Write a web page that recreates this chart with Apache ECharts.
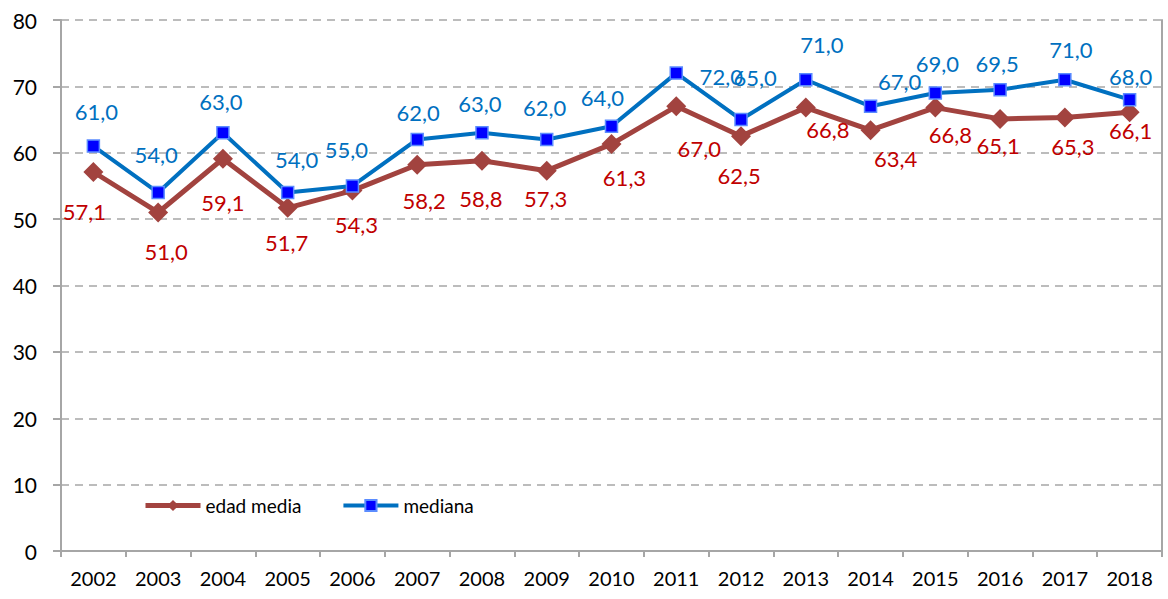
<!DOCTYPE html>
<html>
<head>
<meta charset="utf-8">
<script src="https://cdn.jsdelivr.net/npm/echarts@6/dist/echarts.min.js"></script>
<style>
  html, body { margin: 0; padding: 0; background: #fff; }
  #chart { width: 1168px; height: 599px; }
</style>
</head>
<body>
<div id="chart"></div>
<script>
(function() {
  'use strict';

  // ========== Data ==========
  var years = ['2002', '2003', '2004', '2005', '2006', '2007', '2008', '2009', '2010',
               '2011', '2012', '2013', '2014', '2015', '2016', '2017', '2018'];
  var edadMedia = [57.1, 51.0, 59.1, 51.7, 54.3, 58.2, 58.8, 57.3, 61.3,
                   67.0, 62.5, 66.8, 63.4, 66.8, 65.1, 65.3, 66.1];
  var mediana = [61.0, 54.0, 63.0, 54.0, 55.0, 62.0, 63.0, 62.0, 64.0,
                 72.0, 65.0, 71.0, 67.0, 69.0, 69.5, 71.0, 68.0];
  var yTicks = [0, 10, 20, 30, 40, 50, 60, 70, 80];

  // label placement (pixels from the marker), as in the original sheet
  var edadOffsets = [[-9, 40], [8, 39], [0, 44], [-1, 35], [4, 34], [7, 36], [-1, 38], [-1, 28], [13, 33],
                     [23, 42], [-2, 39], [22, 22], [25, 28], [15, 27], [-2, 27], [8, 29], [1, 18]];
  var medianaOffsets = [[3, -35], [-2, -38], [-2, -31], [9, -33], [-6, -36], [1, -27], [-2, -29], [-2, -32], [-9, -29],
                        [45, 3], [14, -42], [16, -35], [29, -25], [2, -30], [-3, -26], [6, -30], [1, -23]];

  var red = '#A2433F';
  var redText = '#C00000';
  var blue = '#0070C0';
  var grey = '#A6A6A6';
  var font = 'Lato, "Liberation Sans", sans-serif';

  function fmt(v) { return v.toFixed(1).replace('.', ','); }

  function withOffsets(values, offsets) {
    return values.map(function(v, i) {
      return { value: v, label: { offset: offsets[i] } };
    });
  }

  var chart = echarts.init(document.getElementById('chart'), null, { renderer: 'svg' });
  chart.setOption({
    animation: false,
    textStyle: { fontFamily: font },
    grid: { left: 61, right: 6, top: 20, bottom: 48, containLabel: false },
    legend: {
      left: 97,
      top: 486,
      padding: [10, 40, 10, 46],
      backgroundColor: '#fff',
      itemGap: 40,
      itemWidth: 55,
      itemHeight: 14,
      textStyle: { color: '#000', fontSize: 19, fontFamily: font },
      data: [
        { name: 'edad media', lineStyle: { width: 5 } },
        { name: 'mediana', lineStyle: { width: 4 } }
      ]
    },
    xAxis: {
      type: 'category',
      data: years,
      boundaryGap: true,
      axisLine: { lineStyle: { color: grey, width: 2 } },
      axisTick: { show: true, length: 6, lineStyle: { color: grey, width: 2 } },
      axisLabel: { color: '#000', fontSize: 20, margin: 17, fontFamily: font }
    },
    yAxis: [{
      type: 'value',
      min: yTicks[0],
      max: yTicks[yTicks.length - 1],
      interval: 10,
      axisLine: { show: true, lineStyle: { color: grey, width: 2 } },
      axisTick: { show: true, length: 8, lineStyle: { color: grey, width: 2 } },
      axisLabel: { color: '#000', fontSize: 21, margin: 24, fontFamily: font },
      splitLine: { show: true, lineStyle: { color: grey, width: 1.5, type: [8, 6] } }
    }, {
      type: 'value',
      position: 'right',
      min: yTicks[0],
      max: yTicks[yTicks.length - 1],
      interval: 10,
      axisLine: { show: true, lineStyle: { color: grey, width: 2 } },
      axisTick: { show: false },
      axisLabel: { show: false },
      splitLine: { show: false }
    }],
    series: [{
      name: 'edad media',
      type: 'line',
      data: withOffsets(edadMedia, edadOffsets),
      symbol: 'diamond',
      symbolSize: 20,
      lineStyle: { color: red, width: 5 },
      itemStyle: { color: red },
      label: {
        show: true,
        position: 'inside',
        color: redText,
        fontSize: 22,
        fontFamily: font,
        formatter: function(p) { return fmt(p.value); }
      },
      z: 2
    }, {
      name: 'mediana',
      type: 'line',
      data: withOffsets(mediana, medianaOffsets),
      symbol: 'rect',
      symbolSize: 12,
      lineStyle: { color: blue, width: 4 },
      itemStyle: { color: '#0000FF', borderColor: '#5B8CFF', borderWidth: 1.5 },
      label: {
        show: true,
        position: 'inside',
        color: blue,
        fontSize: 22,
        fontFamily: font,
        formatter: function(p) { return fmt(p.value); }
      },
      z: 3
    }]
  });
  window.addEventListener('resize', function() { chart.resize(); });
})();
</script>
</body>
</html>
